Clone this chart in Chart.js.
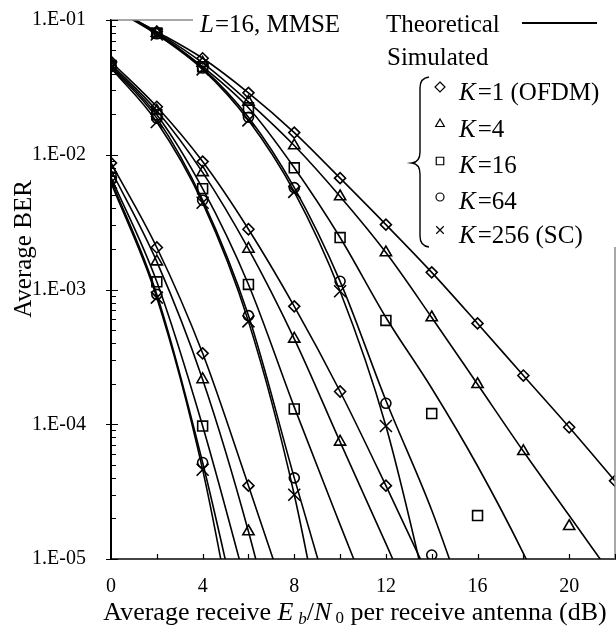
<!DOCTYPE html>
<html>
<head>
<meta charset="utf-8">
<script src="https://cdn.jsdelivr.net/npm/chart.js@4"></script>
<style>
  html, body { margin: 0; padding: 0; background: #fff; }
</style>
</head>
<body>
<canvas id="berChart" width="616" height="630"></canvas>
<script>
// Eb/N0 grid (dB), one entry per array slot below
const snrDb = [0, 2, 4, 6, 8, 10, 12, 14, 16, 18, 20, 22];

const xTickLabels = [0, 4, 8, 12, 16, 20];
const yTickValues = [1e-5, 1e-4, 1e-3, 1e-2, 1e-1];
const kLabels = ['K=1 (OFDM)', 'K=4', 'K=16', 'K=64', 'K=256 (SC)'];

// upper group of curves - theory
const theoA_K1   = [0.125, 0.082, 0.052, 0.0288, 0.0146, 0.0067, 0.00303, 0.00134, 5.6e-4, 2.3e-4, 9.5e-5, 3.8e-5];
const theoA_K4   = [0.125, 0.081, 0.048, 0.0247, 0.0117, 0.0049, 0.00188, 6.2e-4, 1.98e-4, 6.3e-5, 2.1e-5, 7e-6];
const theoA_K16  = [0.124, 0.080, 0.045, 0.0223, 0.0080, 0.00243, 6.2e-4, 1.85e-4, 4.9e-5, 1.1e-5, 2e-6, null];
const theoA_K64  = [0.124, 0.079, 0.044, 0.0190, 0.0057, 1.15e-3, 1.5e-4, 2.3e-5, 2.5e-6, null, null, null];
const theoA_K256 = [0.124, 0.078, 0.043, 0.0180, 0.0053, 9.7e-4, 9.7e-5, 4e-6, null, null, null, null];
// upper group - simulated
const simA_K1   = [null, 0.082, 0.052, 0.0288, 0.0146, 0.0067, 0.00303, 0.00134, 5.6e-4, 2.3e-4, 9.5e-5, 3.8e-5];
const simA_K4   = [null, 0.080, 0.048, 0.0247, 0.0117, 0.0049, 0.00188, 6.2e-4, 1.98e-4, 6.3e-5, 1.75e-5, null];
const simA_K16  = [null, 0.080, 0.045, 0.0223, 0.0080, 0.00243, 5.9e-4, 1.2e-4, 2.1e-5, null, null, null];
const simA_K64  = [null, 0.079, 0.044, 0.0190, 0.0057, 1.15e-3, 1.43e-4, 1.07e-5, null, null, null, null];
const simA_K256 = [null, 0.078, 0.043, 0.0180, 0.0053, 9.7e-4, 9.7e-5, null, null, null, null, null];

// middle group - theory
const theoB_K1   = [0.049, 0.0227, 0.0089, 0.0028, 7.5e-4, 1.75e-4, 3.5e-5, 6.6e-6];
const theoB_K4   = [0.047, 0.0212, 0.0074, 0.0020, 4.3e-4, 7.4e-5, 1.3e-5, 2.2e-6];
const theoB_K16  = [0.046, 0.0198, 0.0056, 0.00109, 1.34e-4, 1.8e-5, 2.5e-6];
const theoB_K64  = [0.045, 0.0187, 0.0046, 6.4e-4, 4.0e-5, 2.7e-6];
const theoB_K256 = [0.044, 0.0175, 0.0044, 5.8e-4, 3.0e-5, 5.5e-7];
// middle group - simulated
const simB_K1   = [0.049, 0.0227, 0.0089, 0.0028, 7.5e-4, 1.75e-4, 3.5e-5];
const simB_K4   = [0.047, 0.0212, 0.0074, 0.0020, 4.3e-4, 7.4e-5];
const simB_K16  = [0.046, 0.0198, 0.0056, 0.00109, 1.3e-4];
const simB_K64  = [0.045, 0.0187, 0.0046, 6.4e-4, 4.0e-5];
const simB_K256 = [0.044, 0.0175, 0.0044, 5.8e-4, 3.0e-5];

// lower group - theory
const theoC_K1   = [0.0087, 0.00205, 3.36e-4, 3.5e-5, 3.4e-6];
const theoC_K4   = [0.0077, 0.00161, 2.15e-4, 1.6e-5, 7e-7];
const theoC_K16  = [0.0068, 0.00114, 9.7e-5, 5.6e-6];
const theoC_K64  = [0.0065, 9.2e-4, 5.2e-5, 1.7e-6];
const theoC_K256 = [0.0062, 8.7e-4, 4.6e-5, 8e-7];
// lower group - simulated
const simC_K1   = [0.0087, 0.00205, 3.36e-4, 3.5e-5];
const simC_K4   = [0.0077, 0.00161, 2.15e-4, 1.6e-5];
const simC_K16  = [0.0068, 0.00114, 9.7e-5];
const simC_K64  = [0.0065, 9.2e-4, 5.2e-5];
const simC_K256 = [0.0062, 8.7e-4, 4.6e-5];

const serif = '"Liberation Serif", "Times New Roman", serif';

// marker look per K value
const markerStyles = [
  { pointStyle: 'rectRot', radius: 5.5 },
  { pointStyle: 'triangle', radius: 6.5 },
  { pointStyle: 'rect', radius: 7 },
  { pointStyle: 'circle', radius: 5 },
  { pointStyle: 'crossRot', radius: 8.5 }
];

function toPoints(arr) {
  const pts = [];
  arr.forEach((v, i) => { if (v != null) pts.push({ x: snrDb[i], y: v }); });
  return pts;
}

function theoryLine(arr) {
  return {
    data: toPoints(arr),
    borderColor: '#000',
    borderWidth: 1.6,
    pointRadius: 0,
    fill: false,
    cubicInterpolationMode: 'monotone'
  };
}

function simPoints(arr, k) {
  return {
    data: toPoints(arr),
    showLine: false,
    pointStyle: markerStyles[k].pointStyle,
    pointRadius: markerStyles[k].radius,
    pointBorderColor: '#000',
    pointBackgroundColor: 'rgba(0,0,0,0)',
    pointBorderWidth: 1.6
  };
}

const theorySets = [theoA_K1, theoA_K4, theoA_K16, theoA_K64, theoA_K256,
                    theoB_K1, theoB_K4, theoB_K16, theoB_K64, theoB_K256,
                    theoC_K1, theoC_K4, theoC_K16, theoC_K64, theoC_K256];
const simSets = [simA_K1, simA_K4, simA_K16, simA_K64, simA_K256,
                 simB_K1, simB_K4, simB_K16, simB_K64, simB_K256,
                 simC_K1, simC_K4, simC_K16, simC_K64, simC_K256];

const datasets = theorySets.map(theoryLine)
  .concat(simSets.map((arr, i) => simPoints(arr, i % 5)));

function formatBer(v) {
  const e = Math.round(Math.log10(v));
  return '1.E-' + String(-e).padStart(2, '0');
}

function drawMarker(ctx, style, cx, cy, r) {
  ctx.beginPath();
  if (style === 'rectRot') {
    ctx.moveTo(cx, cy - r); ctx.lineTo(cx + r, cy); ctx.lineTo(cx, cy + r); ctx.lineTo(cx - r, cy); ctx.closePath();
  } else if (style === 'triangle') {
    ctx.moveTo(cx, cy - r);
    ctx.lineTo(cx + r * 0.866, cy + r * 0.5);
    ctx.lineTo(cx - r * 0.866, cy + r * 0.5);
    ctx.closePath();
  } else if (style === 'rect') {
    ctx.rect(cx - r * 0.75, cy - r * 0.75, r * 1.5, r * 1.5);
  } else if (style === 'circle') {
    ctx.arc(cx, cy, r * 0.8, 0, Math.PI * 2);
  } else {
    const d = r * 0.75;
    ctx.moveTo(cx - d, cy - d); ctx.lineTo(cx + d, cy + d);
    ctx.moveTo(cx + d, cy - d); ctx.lineTo(cx - d, cy + d);
  }
  ctx.stroke();
}

// draws pieces of text in a row, returns end x
function drawRuns(ctx, runs, x, y) {
  runs.forEach(r => {
    ctx.font = (r.italic ? 'italic ' : '') + r.size + 'px ' + serif;
    ctx.fillText(r.text, x, y + (r.dy || 0));
    x += ctx.measureText(r.text).width + (r.gap || 0);
  });
  return x;
}

function runsWidth(ctx, runs) {
  let w = 0;
  runs.forEach(r => {
    ctx.font = (r.italic ? 'italic ' : '') + r.size + 'px ' + serif;
    w += ctx.measureText(r.text).width + (r.gap || 0);
  });
  return w;
}

const decorPlugin = {
  id: 'decor',
  afterDraw(chart) {
    const { ctx, chartArea: a, scales } = chart;
    const xs = scales.x, ys = scales.y;
    ctx.save();

    // grey plot frame, partly hidden by the annotation boxes
    ctx.strokeStyle = '#8a8a8a';
    ctx.lineWidth = 1.5;
    ctx.beginPath();
    ctx.moveTo(a.left, a.top); ctx.lineTo(193, a.top);
    ctx.moveTo(a.right, 247); ctx.lineTo(a.right, a.bottom);
    ctx.stroke();

    // inward tick marks
    ctx.strokeStyle = '#000';
    ctx.lineWidth = 1.2;
    ctx.beginPath();
    for (let e = -5; e <= -1; e++) {
      for (let k = 1; k <= 9; k++) {
        const v = k * Math.pow(10, e);
        if (v > 0.1 + 1e-9) break;
        const py = Math.round(ys.getPixelForValue(v)) + 0.5;
        if (k === 1) { ctx.moveTo(a.left - 5, py); ctx.lineTo(a.left + 7, py); }
        else { ctx.moveTo(a.left, py); ctx.lineTo(a.left + 5, py); }
      }
    }
    for (let v = 2; v <= 22; v += 2) {
      const px = Math.round(xs.getPixelForValue(v)) + 0.5;
      ctx.moveTo(px, a.bottom); ctx.lineTo(px, a.bottom - 5);
    }
    ctx.stroke();

    ctx.fillStyle = '#000';
    ctx.textBaseline = 'alphabetic';
    ctx.textAlign = 'left';

    // annotations at the top
    drawRuns(ctx, [
      { text: 'L', italic: true, size: 25, gap: 1 },
      { text: '=16, MMSE', size: 25 }
    ], 200, 32);
    drawRuns(ctx, [{ text: 'Theoretical', size: 25 }], 386, 32);
    ctx.lineWidth = 2;
    ctx.beginPath();
    ctx.moveTo(522, 23); ctx.lineTo(597, 23);
    ctx.stroke();
    drawRuns(ctx, [{ text: 'Simulated', size: 25 }], 387, 65);

    // curly brace grouping the simulated markers
    ctx.lineWidth = 1.4;
    ctx.beginPath();
    ctx.moveTo(429, 77);
    ctx.quadraticCurveTo(420, 78, 420, 88);
    ctx.lineTo(420, 152);
    ctx.quadraticCurveTo(420, 162, 412, 163);
    ctx.quadraticCurveTo(420, 164, 420, 174);
    ctx.lineTo(420, 236);
    ctx.quadraticCurveTo(420, 246, 429, 247);
    ctx.stroke();

    const markerY = [87, 124, 161, 197, 230];
    const textY = [100, 137, 173, 209, 243];
    ctx.lineWidth = 1.2;
    kLabels.forEach((lab, i) => {
      drawMarker(ctx, markerStyles[i].pointStyle, 440, markerY[i], 5);
      drawRuns(ctx, [
        { text: 'K', italic: true, size: 25, gap: 2 },
        { text: lab.slice(1), size: 25 }
      ], 459, textY[i]);
    });

    // x axis title
    const titleRuns = [
      { text: 'Average receive ', size: 26 },
      { text: 'E', italic: true, size: 26, gap: 5 },
      { text: 'b', italic: true, size: 17, dy: 4 },
      { text: '/', size: 26 },
      { text: 'N', italic: true, size: 26, gap: 4 },
      { text: '0', size: 17, dy: 3 },
      { text: ' per receive antenna (dB)', size: 26 }
    ];
    const tw = runsWidth(ctx, titleRuns);
    drawRuns(ctx, titleRuns, 355 - tw / 2, 620);

    // y axis title
    ctx.translate(24, 249);
    ctx.rotate(-Math.PI / 2);
    ctx.textAlign = 'center';
    ctx.textBaseline = 'middle';
    ctx.font = '25px ' + serif;
    ctx.fillText('Average BER', 0, 0);

    ctx.restore();
  }
};

new Chart(document.getElementById('berChart').getContext('2d'), {
  type: 'line',
  data: { datasets: datasets },
  options: {
    responsive: false,
    animation: false,
    devicePixelRatio: 1,
    layout: { autoPadding: false, padding: { top: 20, right: 1, left: 0, bottom: 0 } },
    elements: { line: { capBezierPoints: false } },
    plugins: { legend: { display: false }, tooltip: { enabled: false } },
    scales: {
      x: {
        type: 'linear',
        min: 0,
        max: 22,
        grid: { display: false },
        border: { display: true, color: '#444', width: 2 },
        afterBuildTicks: s => { s.ticks = xTickLabels.map(v => ({ value: v })); },
        ticks: { color: '#000', font: { family: serif, size: 20 }, padding: 8, maxRotation: 0, autoSkip: false },
        afterFit: s => { s.height = 71; s.paddingLeft = 0; s.paddingRight = 0; }
      },
      y: {
        type: 'logarithmic',
        min: 1e-5,
        max: 1e-1,
        grid: { display: false },
        border: { display: true, color: '#000', width: 2 },
        afterBuildTicks: s => { s.ticks = yTickValues.map(v => ({ value: v })); },
        ticks: { color: '#000', font: { family: serif, size: 20 }, padding: 17, autoSkip: false, callback: v => formatBer(v) },
        afterFit: s => { s.width = 111; s.paddingTop = 0; s.paddingBottom = 0; }
      }
    }
  },
  plugins: [decorPlugin]
});
</script>
</body>
</html>
